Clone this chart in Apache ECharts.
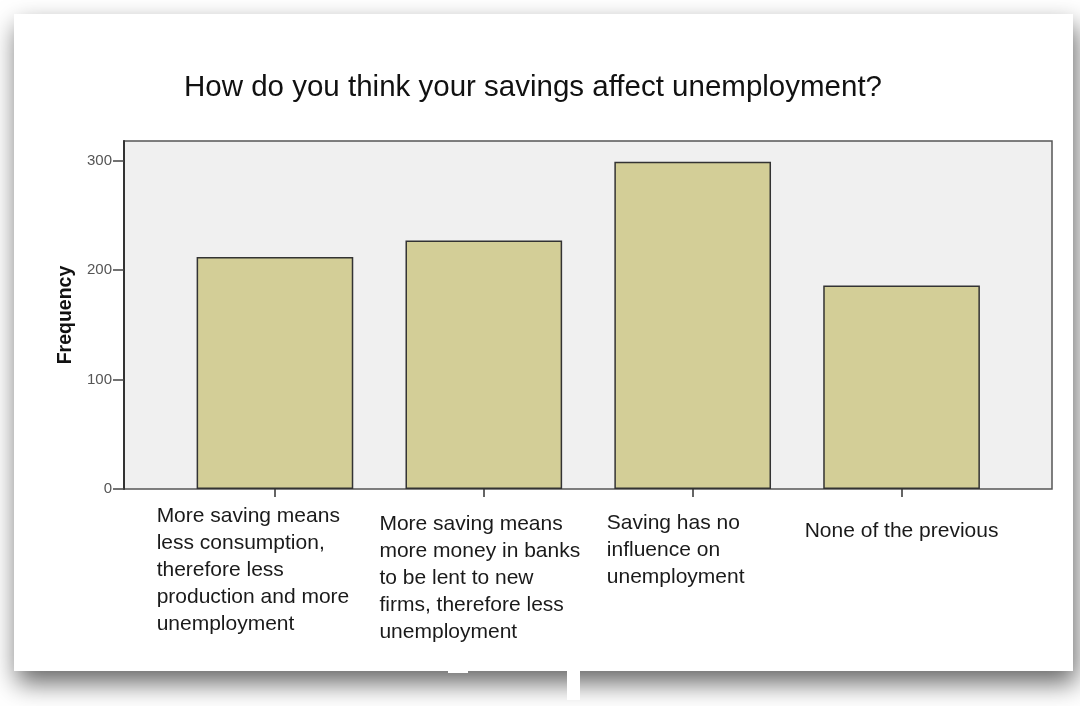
<!DOCTYPE html>
<html>
<head>
<meta charset="utf-8">
<script src="https://cdn.jsdelivr.net/npm/echarts@6/dist/echarts.min.js"></script>
<style>html,body{margin:0;padding:0;background:#fff;}#c{width:1080px;height:706px;}</style>
</head>
<body>
<div id="c"></div>
<script>
const titleText = 'How do you think your savings affect unemployment?';
const categories = [
  'More saving means\nless consumption,\ntherefore less\nproduction and more\nunemployment',
  'More saving means\nmore money in banks\nto be lent to new\nfirms, therefore less\nunemployment',
  'Saving has no\ninfluence on\nunemployment',
  'None of the previous'
];
const frequencies = [212, 227, 299, 186];
const yTicks = [0, 100, 200, 300];
const yMax = 318;

// per-label nudges to mimic the original's label placement
const labelPads = [[0, 44, 0, 0], [8, 8, 0, 0], [7, 34, 0, 0], [15, 0, 0, 0]];

const chart = echarts.init(document.getElementById('c'));
const PL = 124, PT = 141, PW = 928, PH = 348;
const BL = 170.5, BW = 835.5;

chart.setOption({
  backgroundColor: '#ffffff',
  animation: false,
  graphic: [{
    type: 'rect', z: -10, silent: true,
    shape: { x: 14, y: 14, width: 1059, height: 657 },
    style: { fill: '#ffffff', shadowBlur: 24, shadowOffsetX: 3, shadowOffsetY: 12, shadowColor: 'rgba(0,0,0,0.6)' }
  }, {
    type: 'rect', z: -5, silent: true,
    shape: { x: 448, y: 668, width: 20, height: 5 }, style: { fill: '#ffffff' }
  }, {
    type: 'rect', z: -5, silent: true,
    shape: { x: 567, y: 668, width: 13, height: 32 }, style: { fill: '#ffffff' }
  }],
  title: {
    text: titleText, left: 528, top: 68, textAlign: 'center',
    textStyle: { fontFamily: 'Liberation Sans', fontSize: 29.5, fontWeight: 'normal', color: '#111' }
  },
  grid: [
    { left: PL, top: PT, width: PW, height: PH, show: true, backgroundColor: '#f0f0f0', borderColor: '#555', borderWidth: 1.5 },
    { left: BL, top: PT, width: BW, height: PH }
  ],
  xAxis: [
    { gridIndex: 0, type: 'category', data: ['x'], show: false },
    {
      gridIndex: 1, type: 'category',
      data: categories.map((c, i) => ({ value: c, textStyle: { padding: labelPads[i] } })),
      axisLine: { show: false },
      axisTick: { show: true, alignWithLabel: true, length: 8, lineStyle: { color: '#333', width: 1.5 } },
      axisLabel: {
        interval: 0, margin: 14, verticalAlign: 'top',
        formatter: v => v.split('\n').map(l => '{a|' + l + '}').join('\n'),
        rich: { a: { align: 'left', fontFamily: 'Liberation Sans', fontSize: 21, lineHeight: 27, color: '#1a1a1a' } }
      }
    }
  ],
  yAxis: [
    {
      gridIndex: 0, type: 'value', min: 0, max: yMax,
      name: 'Frequency', nameLocation: 'middle', nameGap: 48, nameRotate: 90,
      nameTextStyle: { fontFamily: 'Liberation Sans', fontSize: 19.5, fontWeight: 'bold', color: '#111' },
      axisLine: { show: true, lineStyle: { color: '#333', width: 2 } },
      axisTick: { show: true, length: 11, customValues: yTicks, lineStyle: { color: '#444', width: 1.5 } },
      axisLabel: { customValues: yTicks, margin: 12, fontFamily: 'Liberation Sans', fontSize: 15, color: '#555' },
      splitLine: { show: false }
    },
    { gridIndex: 1, type: 'value', min: 0, max: yMax, show: false, splitLine: { show: false } }
  ],
  series: [{
    type: 'bar', xAxisIndex: 1, yAxisIndex: 1,
    data: frequencies, barWidth: '75%',
    itemStyle: { color: '#d3ce97', borderColor: '#333', borderWidth: 1.5 }
  }]
});
</script>
</body>
</html>
